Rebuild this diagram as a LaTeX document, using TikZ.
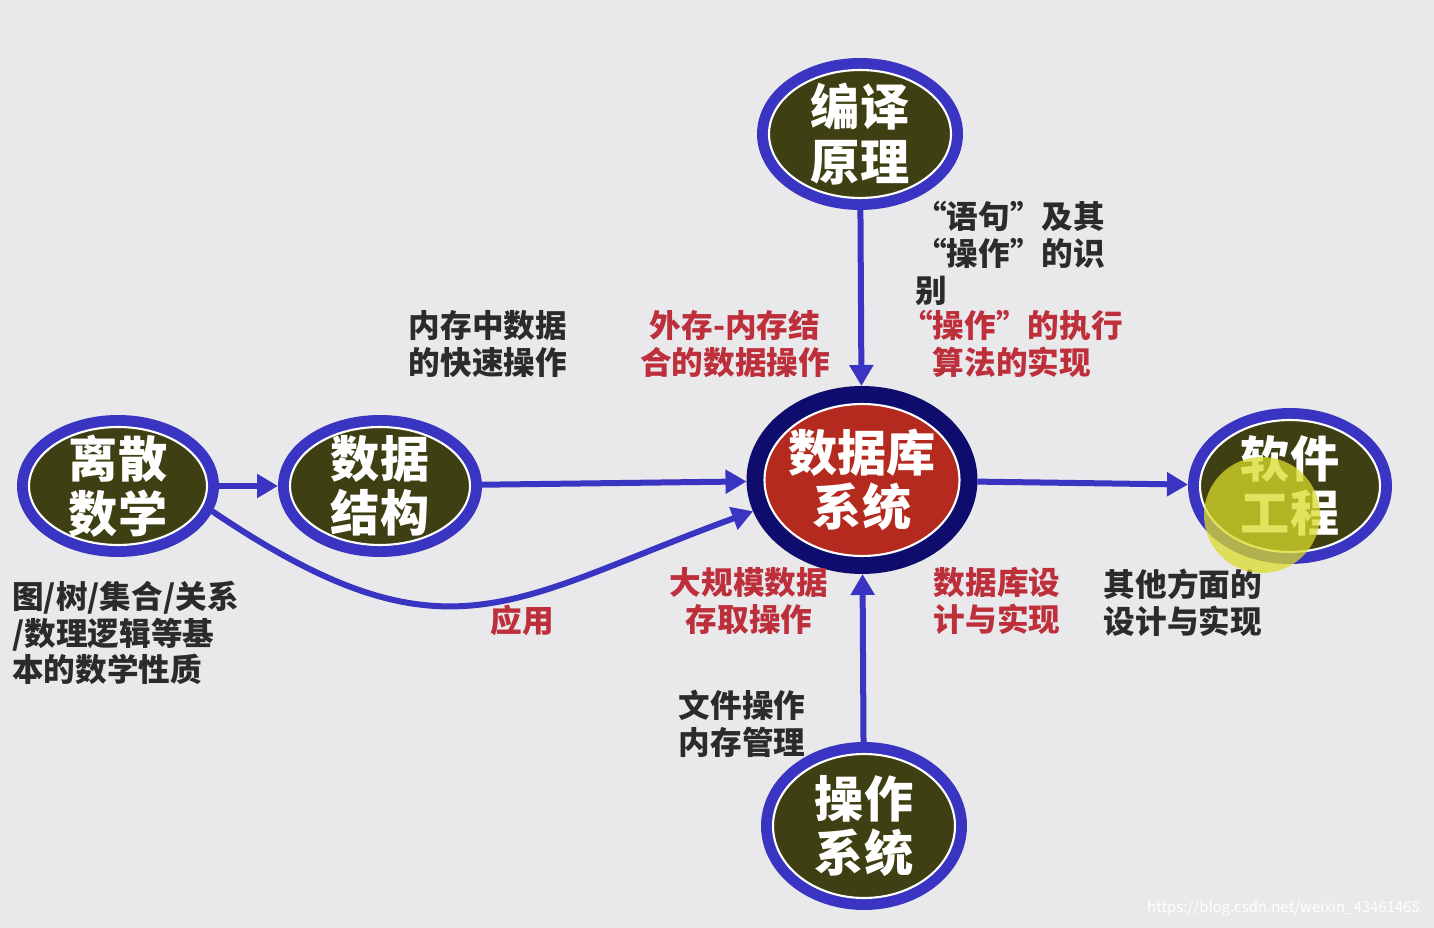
\documentclass[tikz,border=0pt]{standalone}
\usepackage{fontspec}
\setmainfont{Noto Sans CJK SC}
\usetikzlibrary{shapes.geometric,arrows.meta}
\definecolor{paper}{HTML}{E9E8EA}
\definecolor{ring}{HTML}{3A34C2}
\definecolor{navy}{HTML}{0E0C6C}
\definecolor{olive}{HTML}{3E3F12}
\definecolor{brick}{HTML}{B52A1E}
\definecolor{note}{HTML}{2B2B2B}
\definecolor{hot}{HTML}{BE2F3C}
\definecolor{glow}{HTML}{D9DC2A}
\tikzset{
  subj/.style={ellipse, fill=olive, draw=white, line width=1.2pt, inner sep=0pt,
    outer sep=0.24cm, preaction={draw=ring, line width=0.48cm}},
  core/.style={ellipse, fill=brick, draw=white, line width=1.2pt, inner sep=0pt,
    outer sep=0.36cm, preaction={draw=navy, line width=0.72cm}},
  big/.style={text=white, font=\fontsize{28}{31}\selectfont\bfseries, align=center},
  conn/.style={draw=ring, line width=0.12cm, -{Triangle[length=0.42cm,width=0.46cm]}},
  lab/.style={text=note, font=\fontsize{18}{21}\selectfont\bfseries, align=left, inner sep=0pt},
  labr/.style={lab, text=hot, align=center},
}
\begin{document}
\begin{tikzpicture}[x=0.02cm, y=-0.02cm]
  \fill[paper] (0,0) rectangle (1434,928);

  % subjects
  \node[subj, minimum width=3.56cm, minimum height=2.36cm, label={[big]center:{离散\\数学}}] (dm) at (118,486) {};
  \node[subj, minimum width=3.6cm, minimum height=2.36cm, label={[big]center:{数据\\结构}}] (ds) at (380,486) {};
  \node[core, minimum width=3.9cm, minimum height=3.04cm, label={[big]center:{数据库\\系统}}] (db) at (862,480) {};
  \node[subj, minimum width=3.6cm, minimum height=2.64cm, label={[big]center:{软件\\工程}}] (se) at (1290,486) {};
  \node[subj, minimum width=3.64cm, minimum height=2.56cm, label={[big]center:{编译\\原理}}] (cp) at (860,134) {};
  \node[subj, minimum width=3.64cm, minimum height=2.88cm, label={[big]center:{操作\\系统}}] (os) at (864,826) {};

  % links
  \draw[conn] (dm) -- (ds);
  \draw[conn] (ds) -- (db);
  \draw[conn] (dm.-15) .. controls (447,670) and (510,600) .. (db.196);
  \draw[conn] (cp) -- (db);
  \draw[conn] (os) -- (db);
  \draw[conn] (db) -- (se);

  % notes
  \node[lab] (ds-note) at (488,344) {内存中数据\\的快速操作};
  \node[labr] (io-note) at (735,344) {外存-内存结\\合的数据操作};
  \node[lab, anchor=west] (cp-note) at (915,253) {“语句”及其\\ “操作”的识\\别};
  \node[labr] (alg-note) at (1012,344) {“操作”的执行\\算法的实现};
  \node[labr] (mass-note) at (749,601) {大规模数据\\存取操作};
  \node[labr] (dbd-note) at (997,601) {数据库设\\计与实现};
  \node[lab] (se-note) at (1183,603) {其他方面的\\设计与实现};
  \node[lab] (os-note) at (742,724) {文件操作\\内存管理};
  \node[labr] (use-note) at (522,620) {应用};
  \node[lab, anchor=west] (dm-note) at (12,633) {图/树/集合/关系\\/数理逻辑等基\\本的数学性质};

  % pointer spot and mark
  \fill[glow, opacity=0.75] (1262,515) circle (1.16cm);
  \node[text=white, font=\fontsize{8.5}{10}\selectfont, anchor=east] (mark) at (1426,908) {https://blog.csdn.net/weixin\_43461465};
\end{tikzpicture}
\end{document}
